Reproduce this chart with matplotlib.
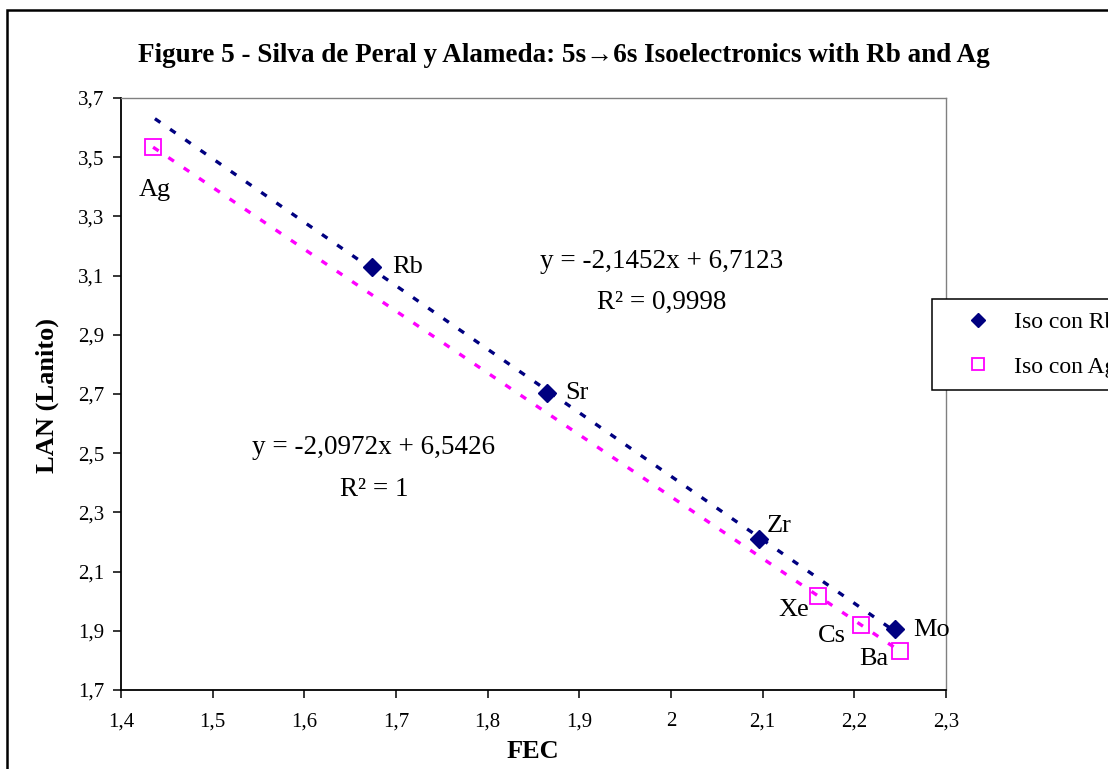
import numpy as np
import matplotlib
matplotlib.use("Agg")
import matplotlib.pyplot as plt
from matplotlib.patches import Rectangle

plt.rcParams['font.family'] = ['Liberation Serif', 'DejaVu Serif']
plt.rcParams['lines.scale_dashes'] = False

# ---- data ----
rb_names = ['Rb', 'Sr', 'Zr', 'Mo']
rb_x = [1.674, 1.865, 2.096, 2.244]
rb_y = [3.129, 2.703, 2.210, 1.906]

ag_names = ['Ag', 'Xe', 'Cs', 'Ba']
ag_x = [1.435, 2.160, 2.207, 2.250]
ag_y = [3.534, 2.018, 1.920, 1.832]

x_ticks = [1.4, 1.5, 1.6, 1.7, 1.8, 1.9, 2.0, 2.1, 2.2, 2.3]
x_tick_labels = ['1,4', '1,5', '1,6', '1,7', '1,8', '1,9', '2', '2,1', '2,2', '2,3']
y_ticks = [1.7, 1.9, 2.1, 2.3, 2.5, 2.7, 2.9, 3.1, 3.3, 3.5, 3.7]
y_tick_labels = ['1,7', '1,9', '2,1', '2,3', '2,5', '2,7', '2,9', '3,1', '3,3', '3,5', '3,7']

eq_rb = ['y = -2,1452x + 6,7123', 'R² = 0,9998']
eq_ag = ['y = -2,0972x + 6,5426', 'R² = 1']

NAVY = '#000080'
MAG = '#FF00FF'

W, H = 1108, 769
fig = plt.figure(figsize=(W / 100, H / 100), dpi=100)

def fx(px):
    return px / W

def fy(py):
    return 1 - py / H

ax = fig.add_axes([fx(121), fy(690), fx(946) - fx(121), fy(98) - fy(690)])

# trendlines
rb_fit = np.polyfit(rb_x, rb_y, 1)
ag_fit = np.polyfit(ag_x, ag_y, 1)
xr = np.array([min(ag_x) + 0.002, max(rb_x)])
xa = np.array([min(ag_x), max(ag_x)])
ax.plot(xr, np.polyval(rb_fit, xr), color=NAVY, lw=2.4, linestyle=(0, (4.8, 8.5)), zorder=2)
ax.plot(xa, np.polyval(ag_fit, xa), color=MAG, lw=2.4, linestyle=(0, (4.8, 8.5)), zorder=2)

ax.plot(rb_x, rb_y, linestyle='none', marker='D', ms=9, color=NAVY,
        label='Iso con Rb', zorder=3)
ax.plot(ag_x, ag_y, linestyle='none', marker='s', ms=11.5, mfc='none', mec=MAG,
        mew=1.3, label='Iso con Ag', zorder=3)

# point labels (offsets in points)
LFS = 19
rb_off = [((14.4, 0), 'left'), ((13, 0), 'left'), ((5.8, 9.4), 'left'), ((13, -1), 'left')]
ag_off = [((1.4, -31), 'center'), ((-5.8, -10), 'right'), ((-10.8, -8), 'right'), ((-8.6, -6), 'right')]
for n, x, y, (off, ha) in zip(rb_names, rb_x, rb_y, rb_off):
    ax.annotate(n, (x, y), xytext=off, textcoords='offset points', ha=ha, va='center', fontsize=LFS)
for n, x, y, (off, ha) in zip(ag_names, ag_x, ag_y, ag_off):
    ax.annotate(n, (x, y), xytext=off, textcoords='offset points', ha=ha, va='center', fontsize=LFS)

ax.set_xlim(1.4, 2.3)
ax.set_ylim(1.7, 3.7)
ax.set_xticks(x_ticks)
ax.set_xticklabels(x_tick_labels)
ax.set_yticks(y_ticks)
ax.set_yticklabels(y_tick_labels)
ax.tick_params(direction='out', length=6, width=1.1, labelsize=15)
ax.tick_params(axis='x', pad=10)
ax.tick_params(axis='y', pad=6)

for s in ['left', 'bottom']:
    ax.spines[s].set_color('black')
    ax.spines[s].set_linewidth(1.3)
for s in ['top', 'right']:
    ax.spines[s].set_color('#808080')
    ax.spines[s].set_linewidth(1.0)

fig.text(fx(533), fy(752), 'FEC', ha='center', va='center', fontsize=19, fontweight='bold')
fig.text(fx(47), fy(395), 'LAN (Lanito)', ha='center', va='center', fontsize=19,
         fontweight='bold', rotation=90)

# equations
EFS = 19.5
fig.text(fx(662), fy(262), eq_rb[0], ha='center', va='center', fontsize=EFS)
fig.text(fx(662), fy(302), eq_rb[1], ha='center', va='center', fontsize=EFS)
fig.text(fx(374), fy(447), eq_ag[0], ha='center', va='center', fontsize=EFS)
fig.text(fx(374), fy(489), eq_ag[1], ha='center', va='center', fontsize=EFS)

fig.text(fx(564), fy(56), 'Figure 5 - Silva de Peral y Alameda: 5s→6s Isoelectronics with Rb and Ag',
         ha='center', va='center', fontsize=19.5, fontweight='bold',
         family=['Liberation Serif', 'DejaVu Serif'])

leg = ax.legend(loc='upper left', bbox_to_anchor=(fx(932), fy(299)), bbox_transform=fig.transFigure,
                fontsize=17, frameon=True, fancybox=False, edgecolor='black',
                borderpad=0.52, labelspacing=0.99, handlelength=2.86, handletextpad=0.1,
                borderaxespad=0)
leg.get_frame().set_linewidth(1.1)
leg.get_frame().set_facecolor('white')
leg.get_frame().set_alpha(1)
for h in leg.legend_handles:
    if h.get_marker() == 's':
        h.set_markersize(8)
    else:
        h.set_markersize(7.5)

# figure border
fig.patches.append(Rectangle((fx(7), -0.2), 1.5, fy(10) + 0.2, transform=fig.transFigure,
                             fill=False, edgecolor='black', lw=1.8))

fig.savefig('out.png', dpi=100)
